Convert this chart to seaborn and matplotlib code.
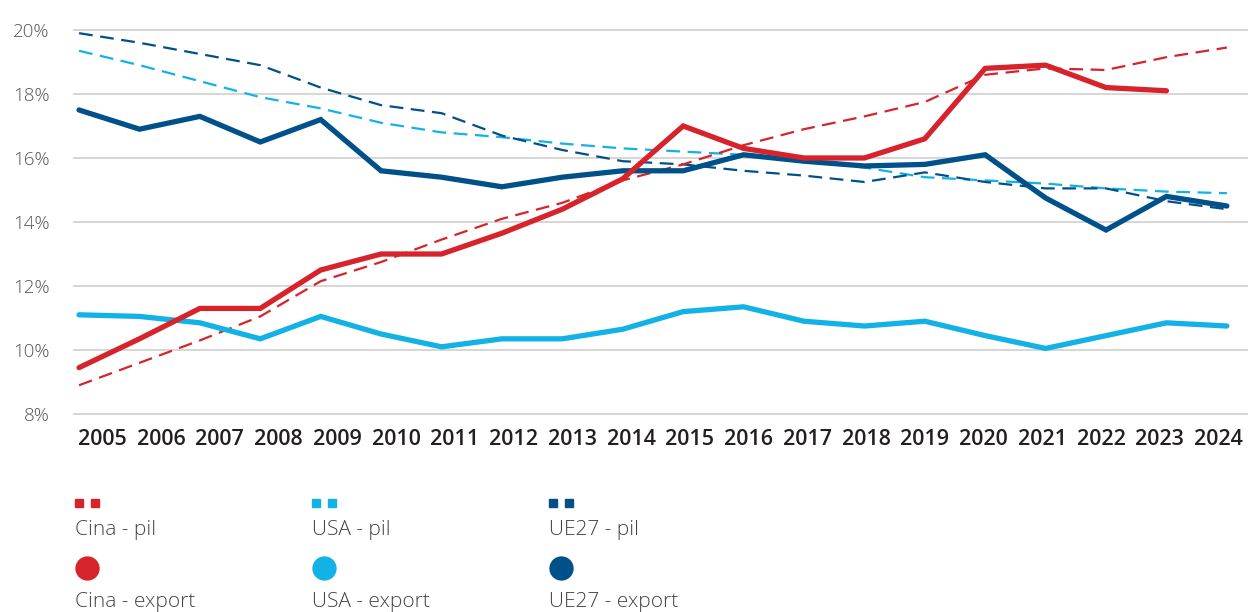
import matplotlib
matplotlib.use("Agg")
import matplotlib.pyplot as plt
from matplotlib.lines import Line2D
import seaborn as sns
import pandas as pd
import numpy as np

# Anni
years = list(range(2005, 2025))

# Quota sul totale mondiale (%)
cina_export = [9.45, 10.35, 11.3, 11.3, 12.5, 13.0, 13.0, 13.65, 14.4, 15.35,
               17.0, 16.3, 16.0, 16.0, 16.6, 18.8, 18.9, 18.2, 18.1, None]
cina_pil = [8.9, 9.6, 10.3, 11.05, 12.15, 12.75, 13.45, 14.1, 14.6, 15.3,
            15.8, 16.4, 16.9, 17.3, 17.75, 18.6, 18.8, 18.75, 19.15, 19.45]
usa_export = [11.1, 11.05, 10.85, 10.35, 11.05, 10.5, 10.1, 10.35, 10.35, 10.65,
              11.2, 11.35, 10.9, 10.75, 10.9, 10.45, 10.05, 10.45, 10.85, 10.75]
usa_pil = [19.35, 18.9, 18.4, 17.9, 17.55, 17.1, 16.8, 16.65, 16.45, 16.3,
           16.2, 16.1, 15.9, 15.7, 15.4, 15.3, 15.2, 15.05, 14.95, 14.9]
ue27_export = [17.5, 16.9, 17.3, 16.5, 17.2, 15.6, 15.4, 15.1, 15.4, 15.6,
               15.6, 16.1, 15.9, 15.75, 15.8, 16.1, 14.75, 13.75, 14.8, 14.5]
ue27_pil = [19.9, 19.6, 19.25, 18.9, 18.2, 17.65, 17.4, 16.7, 16.25, 15.9,
            15.8, 15.6, 15.45, 15.25, 15.55, 15.25, 15.05, 15.05, 14.65, 14.4]

y_ticks = [8, 10, 12, 14, 16, 18, 20]
y_labels = ["8%", "10%", "12%", "14%", "16%", "18%", "20%"]

RED = "#d7232b"
LIGHT = "#12b1e6"
DARK = "#00508a"

W, H = 1256, 612
sns.set_theme(style="white")
plt.rcParams["font.family"] = ["Open Sans", "DejaVu Sans"]

fig = plt.figure(figsize=(W / 100, H / 100), dpi=100)
ax = fig.add_axes([73 / W, 1 - 415 / H, (1248 - 73) / W, (415 - 29) / H])

df = pd.DataFrame({
    "anno": years,
    "cina_export": cina_export, "cina_pil": cina_pil,
    "usa_export": usa_export, "usa_pil": usa_pil,
    "ue27_export": ue27_export, "ue27_pil": ue27_pil,
})

dash = (0, (6.2, 3.4))
for col, color in [("usa_pil", LIGHT), ("ue27_pil", DARK), ("cina_pil", RED)]:
    sns.lineplot(data=df, x="anno", y=col, ax=ax, color=color,
                 linewidth=1.6, linestyle=dash, zorder=3)

for col, color in [("usa_export", LIGHT), ("ue27_export", DARK), ("cina_export", RED)]:
    sns.lineplot(data=df.dropna(subset=[col]), x="anno", y=col, ax=ax, color=color,
                 linewidth=3.8, solid_capstyle="round", solid_joinstyle="miter", zorder=4)

ax.set_xlim(2004.9, 2024.35)
ax.set_ylim(7.97, 20.03)
# year labels sit centred in equal bands across the full plot width
x0, x1 = ax.get_xlim()
band = (x1 - x0) / len(years)
ax.set_xticks(x0 + band * (np.arange(len(years)) + 0.5))
ax.set_xticklabels([str(y) for y in years], fontsize=15.5, color="#231f20",
                   fontweight="semibold")
ax.set_yticks(y_ticks)
ax.set_yticklabels(y_labels, fontsize=13.5, color="#555555", fontweight="light")
ax.tick_params(axis="x", length=0, pad=10)
ax.tick_params(axis="y", length=0, pad=17)
ax.yaxis.grid(True, color="#cfcfcf", linewidth=1.2)
ax.xaxis.grid(False)
for s in ax.spines.values():
    s.set_visible(False)
ax.set_xlabel("")
ax.set_ylabel("")

# Legenda: simbolo sopra, etichetta sotto
def fx(px):
    return px / W

def fy(py):
    return 1 - py / H

legend_cols = [(75, RED, "Cina"), (312, LIGHT, "USA"), (549, DARK, "UE27")]
for lx, color, name in legend_cols:
    for dx in (4, 20):
        fig.add_artist(Line2D([fx(lx + dx)], [fy(503)], marker="s", markersize=5.6,
                              color=color, linestyle="none", transform=fig.transFigure))
    fig.text(fx(lx), fy(530), f"{name} - pil", fontsize=15, color="#444444",
             va="center", ha="left", fontweight="light")
    fig.add_artist(Line2D([fx(lx + 12)], [fy(568)], marker="o", markersize=16.5,
                          color=color, linestyle="none", transform=fig.transFigure))
    fig.text(fx(lx), fy(602), f"{name} - export", fontsize=15, color="#444444",
             va="center", ha="left", fontweight="light")

fig.savefig("out.png", dpi=100)
